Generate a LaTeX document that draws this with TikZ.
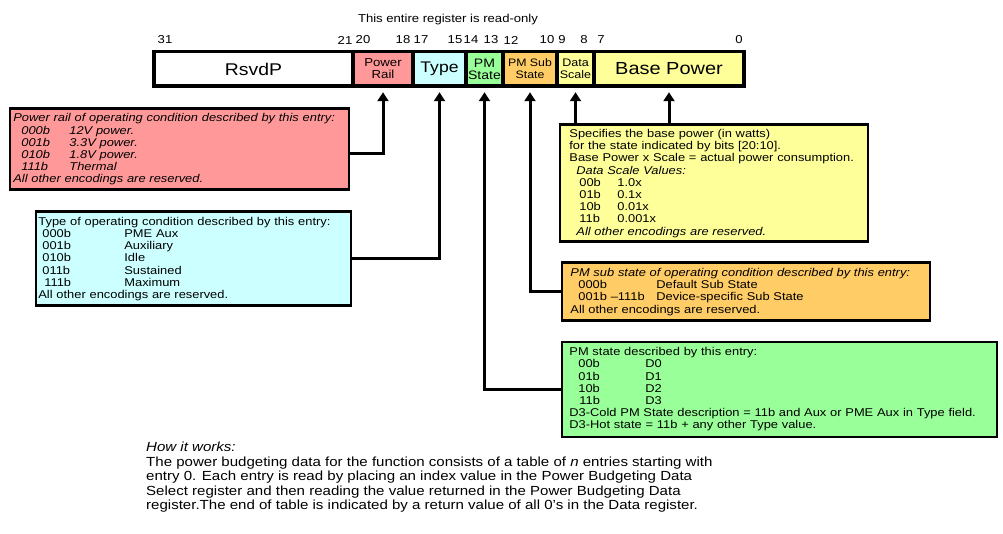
\documentclass[tikz,border=0pt]{standalone}
\usepackage{fontspec}
\setmainfont{Liberation Sans}[FakeStretch=1.14]
\usetikzlibrary{arrows.meta}
\definecolor{railpink}{RGB}{255,153,153}
\definecolor{typecyan}{RGB}{204,255,255}
\definecolor{stategreen}{RGB}{153,255,153}
\definecolor{suborange}{RGB}{255,204,102}
\definecolor{scaleyellow}{RGB}{255,255,153}
\newcommand{\enc}[4][8pt]{\hspace*{#1}\makebox[#2][l]{#3}#4}

\begin{document}
\begin{tikzpicture}[x=1pt,y=-1pt,
    campo/.style={draw, line width=3.5pt, inner sep=0pt, outer sep=0pt,
        minimum height=34.5pt, anchor=west, align=center},
    caja/.style={draw, line width=2.8pt, anchor=north west, align=left,
        inner ysep=2pt, font=\fontsize{11.3}{12.2}\selectfont},
    bitnum/.style={font=\fontsize{11.5}{12}\selectfont},
    flecha/.style={line width=3pt, -{Triangle[width=11pt,length=9pt]},
        shorten >=6pt}]
    \useasboundingbox (0,0) rectangle (1003,534);

    % Titulo y numeros de bits
    \node[bitnum] (titulo) at (448,20) {This entire register is read-only};
    \foreach \x/\b in {165/31,345/21,363/20,403/18,421/17,455/15,471/14,
            491/13,511/12,547/10,562/9,584/8,601/7,739/0} {
        \node[bitnum] (bit\b) at (\x,40) {\b};
    }

    % Campos del registro
    \node[campo, fill=white, minimum width=199pt,
        font=\fontsize{17}{17}\selectfont] (rsvd) at (154,69) {RsvdP};
    \node[campo, fill=railpink, minimum width=60pt,
        font=\fontsize{11.6}{12}\selectfont] (rail) at (353,69) {Power\\Rail};
    \node[campo, fill=typecyan, minimum width=53pt,
        font=\fontsize{15.4}{15}\selectfont] (type) at (413,69) {Type};
    \node[campo, fill=stategreen, minimum width=37pt,
        font=\fontsize{12.3}{12}\selectfont] (pmstate) at (466,69) {PM\\State};
    \node[campo, fill=suborange, minimum width=54pt,
        font=\fontsize{10.8}{12}\selectfont] (pmsub) at (503,69) {PM Sub\\State};
    \node[campo, fill=scaleyellow, minimum width=37pt,
        font=\fontsize{11}{12}\selectfont] (scale) at (557,69) {Data\\Scale};
    \node[campo, fill=scaleyellow, minimum width=150pt,
        font=\fontsize{17.5}{17}\selectfont] (base) at (594,69) {Base Power};

    % Cajas de descripcion
    \node[caja, fill=railpink, inner xsep=3.5pt, text width=332pt,
        minimum height=81pt] (railbox) at (8.5,107.5) {\itshape
        Power rail of operating condition described by this entry:\\
        \enc{48pt}{000b}{12V power.}\\
        \enc{48pt}{001b}{3.3V power.}\\
        \enc{48pt}{010b}{1.8V power.}\\
        \enc{48pt}{111b}{Thermal}\\
        All other encodings are reserved.};

    \node[caja, fill=typecyan, inner xsep=2.5pt, text width=310pt,
        minimum height=94pt] (typebox) at (34.5,210.5) {%
        Type of operating condition described by this entry:\\
        \enc[4pt]{82pt}{000b}{PME Aux}\\
        \enc[4pt]{82pt}{001b}{Auxiliary}\\
        \enc[4pt]{82pt}{010b}{Idle}\\
        \enc[4pt]{82pt}{011b}{Sustained}\\
        \enc[6pt]{80pt}{111b}{Maximum}\\
        All other encodings are reserved.};

    \node[caja, fill=scaleyellow, inner xsep=9.5pt, text width=289pt,
        minimum height=117pt] (basebox) at (558.5,123.5) {%
        Specifies the base power (in watts)\\
        for the state indicated by bits [20:10].\\
        Base Power x Scale = actual power consumption.\\
        \hspace*{7pt}\textit{Data Scale Values:}\\
        \enc[10pt]{38pt}{00b}{1.0x}\\
        \enc[10pt]{38pt}{01b}{0.1x}\\
        \enc[10pt]{38pt}{10b}{0.01x}\\
        \enc[10pt]{38pt}{11b}{0.001x}\\
        \hspace*{7pt}\textit{All other encodings are reserved.}};

    \node[caja, fill=suborange, inner xsep=8.5pt, text width=351pt,
        minimum height=58pt] (subbox) at (560.5,261.5) {%
        \textit{PM sub state of operating condition described by this entry:}\\
        \enc{78pt}{000b}{Default Sub State}\\
        \enc{78pt}{001b --111b}{Device-specific Sub State}\\
        All other encodings are reserved.};

    \node[caja, fill=stategreen, inner xsep=7.5pt, text width=420pt,
        minimum height=95pt] (statebox) at (560.5,340.5) {%
        PM state described by this entry:\\
        \enc[9pt]{67pt}{00b}{D0}\\
        \enc[9pt]{67pt}{01b}{D1}\\
        \enc[9pt]{67pt}{10b}{D2}\\
        \enc[10pt]{66pt}{11b}{D3}\\
        D3-Cold PM State description = 11b and Aux or PME Aux in Type field.\\
        D3-Hot state = 11b + any other Type value.};

    % Flechas
    \draw[flecha] ([yshift=-4pt]railbox.east) -| (rail.south);
    \draw[flecha] (typebox.east) -| (type.south);
    \draw[flecha] (statebox.west) -| (pmstate.south);
    \draw[flecha] (subbox.west) -| (pmsub.south);
    \draw[flecha] (scale.south |- basebox.north) -- (scale.south);
    \draw[flecha] (base.south |- basebox.north) -- (base.south);

    % Explicacion
    \node[anchor=north west, align=left, inner sep=0pt,
        font=\fontsize{13.2}{14.5}\selectfont] (nota) at (146,442) {%
        \textit{How it works:}\\
        The power budgeting data for the function consists of a table of \textit{n} entries starting with\\
        entry 0. Each entry is read by placing an index value in the Power Budgeting Data\\
        Select register and then reading the value returned in the Power Budgeting Data\\
        register.The end of table is indicated by a return value of all 0's in the Data register.};
\end{tikzpicture}
\end{document}
